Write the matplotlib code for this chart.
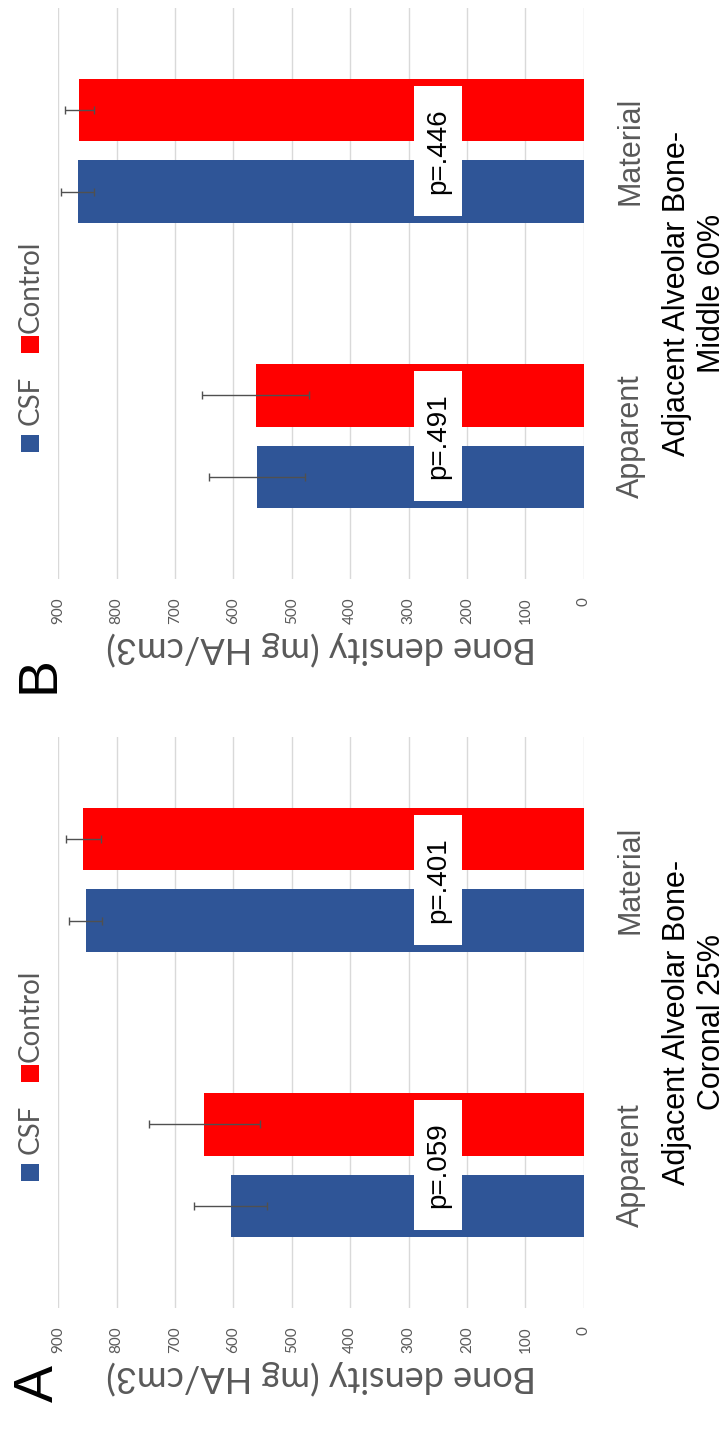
import numpy as np
import matplotlib
matplotlib.use('Agg')
import matplotlib.pyplot as plt
from matplotlib.patches import Rectangle

# bone density per region, CSF vs control
categories = ['Apparent', 'Material']
value_ticks = list(range(0, 1000, 100))

coronal_csf = [605, 853]
coronal_csf_err = [62, 28]
coronal_control = [650, 857]
coronal_control_err = [95, 30]
coronal_p = ['p=.059', 'p=.401']

middle_csf = [559, 867]
middle_csf_err = [82, 28]
middle_control = [562, 864]
middle_control_err = [91, 25]
middle_p = ['p=.491', 'p=.446']

CSF_BLUE = '#2F5597'
CONTROL_RED = '#FF0000'
GRAY = '#595959'
GRID = '#D9D9D9'
ARIAL = 'Liberation Sans'
CALIBRI = 'Lato'

W, H = 726, 1429


def fx(x):
    return x / W


def fy(y):
    return 1 - y / H


def draw_panel(fig, top, csf, csf_err, ctrl, ctrl_err, pvals, title, letter, letter_y):
    left, right, height = 58.3, 583.7, 571
    ax = fig.add_axes([fx(left), fy(top + height), (right - left) / W, height / H])
    pos = np.arange(len(categories))

    ax.barh(pos - 0.143, csf, height=0.22, color=CSF_BLUE, zorder=2)
    ax.barh(pos + 0.143, ctrl, height=0.22, color=CONTROL_RED, zorder=2)
    ax.errorbar(csf, pos - 0.143, xerr=csf_err, fmt='none', ecolor='#505050',
                elinewidth=1, capsize=3, capthick=1, zorder=3)
    ax.errorbar(ctrl, pos + 0.143, xerr=ctrl_err, fmt='none', ecolor='#505050',
                elinewidth=1, capsize=3, capthick=1, zorder=3)

    # p-value labels on white boxes
    for i, p in enumerate(pvals):
        ax.add_patch(Rectangle((250 - 41, i - 0.227), 82, 0.454, facecolor='white',
                               edgecolor='none', zorder=4))
        ax.text(250, i, p, rotation=90, ha='center', va='center', fontsize=20,
                family=ARIAL, color='black', zorder=5)

    ax.set_xlim(900, 0)
    ax.set_ylim(-0.5, 1.5)
    ax.set_xticks(value_ticks)
    ax.tick_params(axis='x', labelrotation=90, length=0, pad=13, labelsize=11,
                   labelcolor=GRAY)
    for lbl in ax.get_xticklabels():
        lbl.set_family(CALIBRI)
    ax.xaxis.grid(True, color=GRID, lw=1)
    ax.set_axisbelow(True)
    for s in ax.spines.values():
        s.set_visible(False)

    ax.set_xlabel('Bone density (mg HA/cm3)', rotation=180, fontsize=26,
                  family=CALIBRI, color=GRAY, labelpad=5)

    ax.yaxis.tick_right()
    ax.set_yticks(pos, categories, rotation=90, va='center')
    ax.tick_params(axis='y', length=0, pad=23, labelsize=22, labelcolor=GRAY)
    for lbl in ax.get_yticklabels():
        lbl.set_family(ARIAL)
    ax.yaxis.set_label_position('right')
    ax.set_ylabel(title, rotation=90, fontsize=22, family=ARIAL, color='black',
                  labelpad=12, multialignment='center')

    # legend, stacked along the category axis
    shift = top - 8
    for y_bottom, color in [(353, CONTROL_RED), (452, CSF_BLUE)]:
        fig.add_artist(Rectangle((fx(21), fy(shift + y_bottom)), 18 / W, 17 / H,
                                 transform=fig.transFigure, facecolor=color,
                                 edgecolor='none'))
    for y_start, name in [(333, 'Control'), (425, 'CSF')]:
        fig.text(fx(39), fy(shift + y_start), name, rotation=90, rotation_mode='anchor',
                 ha='left', va='baseline', fontsize=20, family=CALIBRI, color=GRAY)

    fig.text(fx(53), fy(letter_y), letter, rotation=90, rotation_mode='anchor',
             ha='left', va='baseline', fontsize=40, family=ARIAL, color='black')
    return ax


fig = plt.figure(figsize=(W / 100, H / 100), dpi=100)
draw_panel(fig, 8, middle_csf, middle_csf_err, middle_control, middle_control_err,
           middle_p, 'Adjacent Alveolar Bone-\nMiddle 60%', 'B', 693)
draw_panel(fig, 737, coronal_csf, coronal_csf_err, coronal_control, coronal_control_err,
           coronal_p, 'Adjacent Alveolar Bone-\nCoronal 25%', 'A', 1402)

fig.savefig('out.png', dpi=100)
